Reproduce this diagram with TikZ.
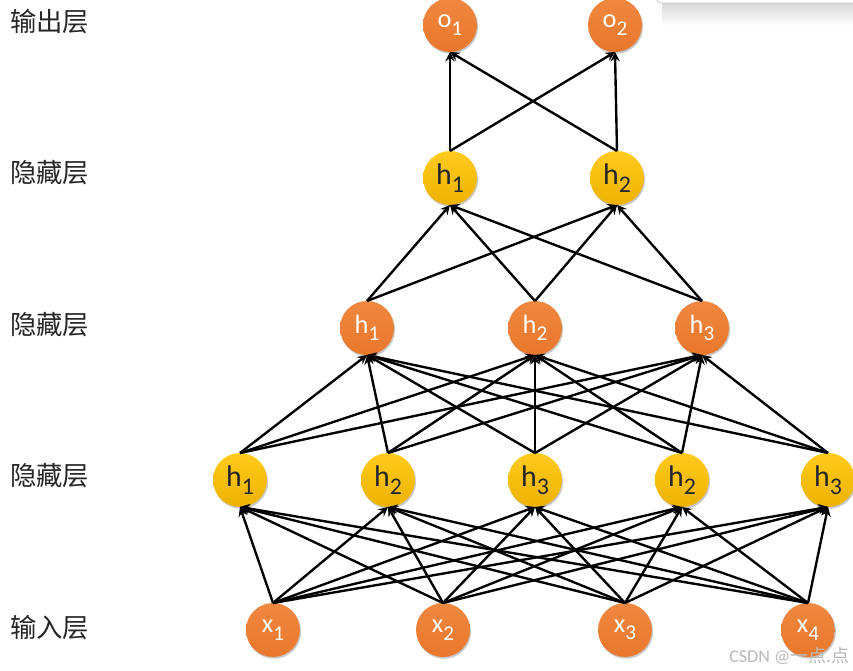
\documentclass[tikz,border=0pt]{standalone}
\usepackage{fontspec}
\setmainfont{Carlito}
\newfontfamily\cjkfont{Noto Sans CJK SC}
\usetikzlibrary{arrows, shadows}

\definecolor{orangetop}{HTML}{F08840}
\definecolor{orangebot}{HTML}{E9772C}
\definecolor{goldtop}{HTML}{FFCB1E}
\definecolor{goldbot}{HTML}{EDB200}

\newcommand{\nsub}[1]{\raisebox{-0.6ex}{\scalebox{0.8}{#1}}}

\begin{document}
\begin{tikzpicture}[x=0.02cm, y=-0.02cm]
\tikzstyle{neuron} = [circle, minimum size=1.08cm, inner sep=0pt, outer sep=0pt, drop shadow={shadow xshift=0.6pt, shadow yshift=-1pt, opacity=0.22, fill=black}]
\tikzstyle{onode} = [neuron, top color=orangetop, bottom color=orangebot, text=white, font=\fontsize{15}{15}\selectfont]
\tikzstyle{ynode} = [neuron, top color=goldtop, bottom color=goldbot, text=black!85, font=\fontsize{17}{17}\selectfont]
\tikzstyle{layer} = [anchor=west, text=black!85, font=\cjkfont\fontsize{15}{18}\selectfont]
\tikzstyle{arrow} = [line width=1.35pt, ->, >=stealth]

\useasboundingbox (0,0) rectangle (853,671);

% screenshot panel at the top right
\shade[top color=gray!30, bottom color=white] (662,3) rectangle (853,26);
\draw[gray!45, fill=white, rounded corners=3pt] (656,-20) rectangle (870,3);

% Layer names
\node (lout) [layer] at (4,22) {输出层};
\node (lh3) [layer] at (4,173) {隐藏层};
\node (lh2) [layer] at (4,325) {隐藏层};
\node (lh1) [layer] at (4,476) {隐藏层};
\node (lin) [layer] at (4,628) {输入层};

% Output layer
\node (o1) [onode] at (450,25) {o\nsub{1}};
\node (o2) [onode] at (615,25) {o\nsub{2}};

% Hidden layer (top)
\node (t1) [ynode] at (450,178) {h\nsub{1}};
\node (t2) [ynode] at (617,178) {h\nsub{2}};

% Hidden layer (middle)
\node (m1) [onode] at (367,328) {h\nsub{1}};
\node (m2) [onode] at (535,328) {h\nsub{2}};
\node (m3) [onode] at (702,328) {h\nsub{3}};

% Hidden layer (bottom)
\node (b1) [ynode] at (240,480) {h\nsub{1}};
\node (b2) [ynode] at (388,480) {h\nsub{2}};
\node (b3) [ynode] at (535,480) {h\nsub{3}};
\node (b4) [ynode] at (682,480) {h\nsub{2}};
\node (b5) [ynode] at (828,480) {h\nsub{3}};

% Input layer
\node (x1) [onode] at (273,630) {x\nsub{1}};
\node (x2) [onode] at (443,630) {x\nsub{2}};
\node (x3) [onode] at (625,630) {x\nsub{3}};
\node (x4) [onode] at (808,630) {x\nsub{4}};

% Connections
\foreach \i in {1,...,4}
  \foreach \j in {1,...,5}
    \draw [arrow] (x\i.north) -- (b\j.south);
\foreach \i in {1,...,5}
  \foreach \j in {1,...,3}
    \draw [arrow] (b\i.north) -- (m\j.south);
\foreach \i in {1,...,3}
  \foreach \j in {1,2}
    \draw [arrow] (m\i.north) -- (t\j.south);
\foreach \i in {1,2}
  \foreach \j in {1,2}
    \draw [arrow] (t\i.north) -- (o\j.south);

% watermark
\node (mark) [anchor=east, inner sep=0pt, text=gray!55, font=\fontsize{10.3}{12}\selectfont] at (850,656) {CSDN @\cjkfont 一点.点};

\end{tikzpicture}
\end{document}
